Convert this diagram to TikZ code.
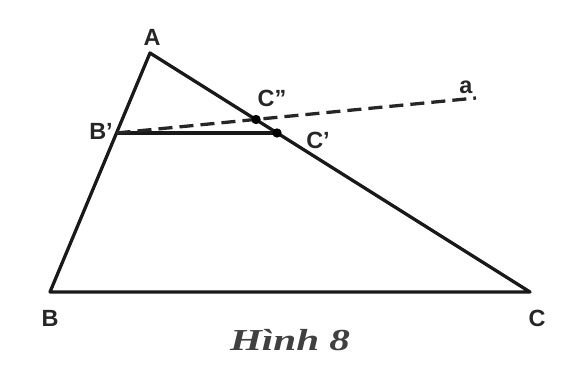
\documentclass[tikz,border=0pt]{standalone}
\usepackage{fontspec}
\setsansfont{Liberation Sans}
\setmainfont{Liberation Serif}
\usepackage{tikz}
\usetikzlibrary{calc}

\begin{document}
\begin{tikzpicture}[x=0.03cm, y=0.03cm,
  edge/.style={line width=2.8pt, line join=round, draw=black!90},
  parallel/.style={line width=2.8pt, draw=black!85,
    dash pattern=on 12pt off 6pt},
  ptlabel/.style={font=\sffamily\bfseries\fontsize{20}{23}\selectfont, text=black!85,
    inner sep=0pt},
  dot/.style={circle, fill=black, inner sep=0pt, minimum size=8pt}
]
\useasboundingbox (0,0) rectangle (584,375);
% vertices
\coordinate (A) at (150,322);
\coordinate (B) at (50,83);
\coordinate (C) at (530,83);
\coordinate (Bp) at (116.5,242);
\coordinate (Cp) at (277,242);
\coordinate (Cpp) at (256,255.5);
\coordinate (aend) at (476,277);

\draw[edge] (A) -- (B) -- (C) -- cycle;
\draw[edge] (Bp) -- (Cp);
\draw[parallel] (Bp) -- (aend);
\node[dot] at (Cp) {};
\node[dot] at (Cpp) {};

% labels
\node[ptlabel] (lA) at (152,338) {A};
\node[ptlabel] (lB) at (50,57) {B};
\node[ptlabel] (lC) at (537,57) {C};
\node[ptlabel] (lBp) at (101,244) {B'};
\node[ptlabel] (lCpp) at (272,277) {C''};
\node[ptlabel] (lCp) at (318,235) {C'};
\node[ptlabel] (la) at (466,288) {a};
\node[font=\bfseries\itshape\fontsize{26}{30}\selectfont, xscale=1.35, text=black!75]
  (cap) at (290,35) {Hình 8};
\end{tikzpicture}
\end{document}
